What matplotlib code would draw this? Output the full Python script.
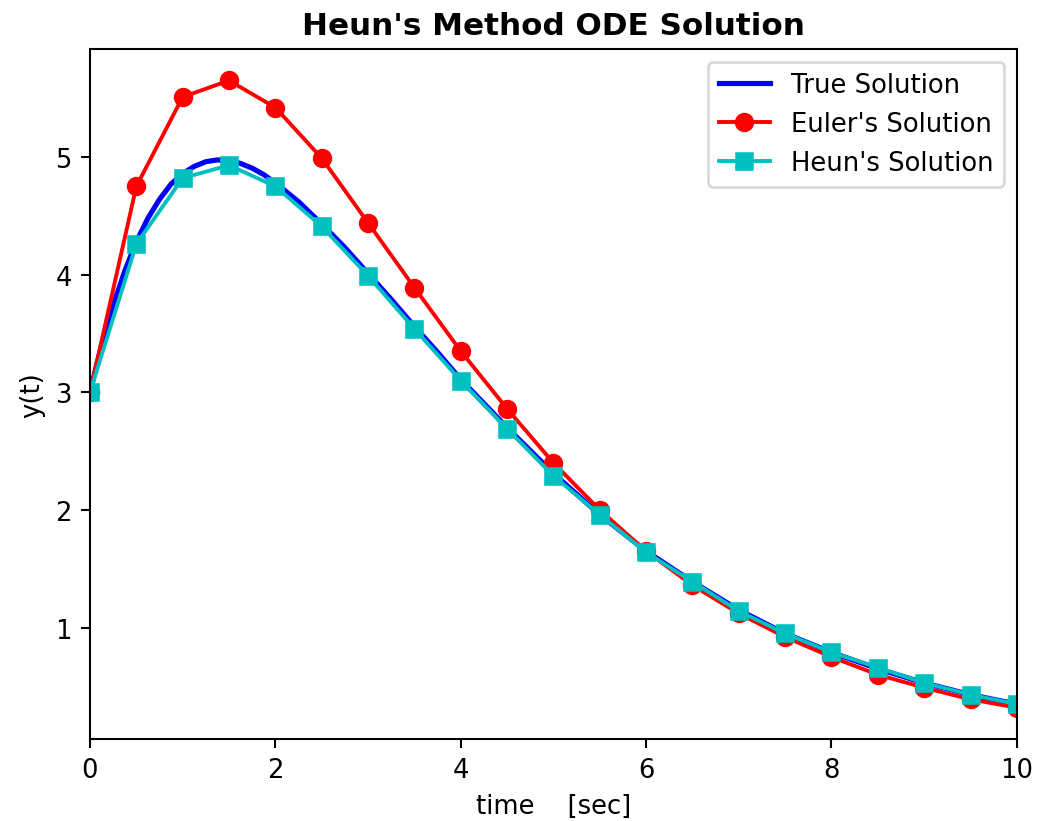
import numpy as np
import matplotlib.pyplot as plt

# Exact solution, sampled finely enough to look smooth
t_true = [0.0, 0.125, 0.25, 0.375, 0.5, 0.625, 0.75, 0.875, 1.0, 1.125,
          1.25, 1.375, 1.5, 1.625, 1.75, 1.875, 2.0, 2.25, 2.5, 2.75, 3.0,
          3.25, 3.5, 3.75, 4.0, 4.5, 5.0, 5.5, 6.0, 6.5, 7.0, 7.5, 8.0, 8.5,
          9.0, 9.5, 10.0]
y_true = [3.00, 3.40, 3.74, 4.03, 4.28, 4.48, 4.64, 4.77, 4.86, 4.92,
          4.96, 4.975, 4.97, 4.945, 4.905, 4.85, 4.78, 4.62, 4.43, 4.23, 4.01,
          3.79, 3.56, 3.34, 3.11, 2.70, 2.31, 1.96, 1.65, 1.39, 1.15, 0.95,
          0.79, 0.65, 0.53, 0.43, 0.35]

# Step size h = 0.5
t_step = [0.0, 0.5, 1.0, 1.5, 2.0, 2.5, 3.0, 3.5, 4.0, 4.5, 5.0, 5.5, 6.0,
          6.5, 7.0, 7.5, 8.0, 8.5, 9.0, 9.5, 10.0]
y_euler = [3.00, 4.75, 5.51, 5.65, 5.42, 4.99, 4.44, 3.89, 3.35, 2.86, 2.40,
           2.00, 1.65, 1.36, 1.12, 0.92, 0.75, 0.60, 0.49, 0.39, 0.32]
y_heun = [3.00, 4.26, 4.82, 4.93, 4.75, 4.41, 3.99, 3.54, 3.10, 2.69, 2.29,
          1.96, 1.64, 1.39, 1.14, 0.95, 0.79, 0.66, 0.53, 0.43, 0.35]

fig = plt.figure(figsize=(1044 / 186, 822 / 186), dpi=186)
fig.subplots_adjust(left=0.0862, right=0.974, top=0.939, bottom=0.0998)
ax = fig.add_subplot(111)

ax.plot(t_true, y_true, 'b-', linewidth=2, label='True Solution')
ax.plot(t_step, y_euler, 'r-o', linewidth=1.5, markersize=6.5, label="Euler's Solution")
ax.plot(t_step, y_heun, 'c-s', linewidth=1.5, markersize=6, label="Heun's Solution")

ax.set_xlim(0, 10)
ax.set_xlabel('time    [sec]')
ax.set_ylabel('y(t)')
ax.set_title("Heun's Method ODE Solution", fontweight='bold')
ax.legend(loc='upper right')

fig.savefig('out.png', dpi=186)
